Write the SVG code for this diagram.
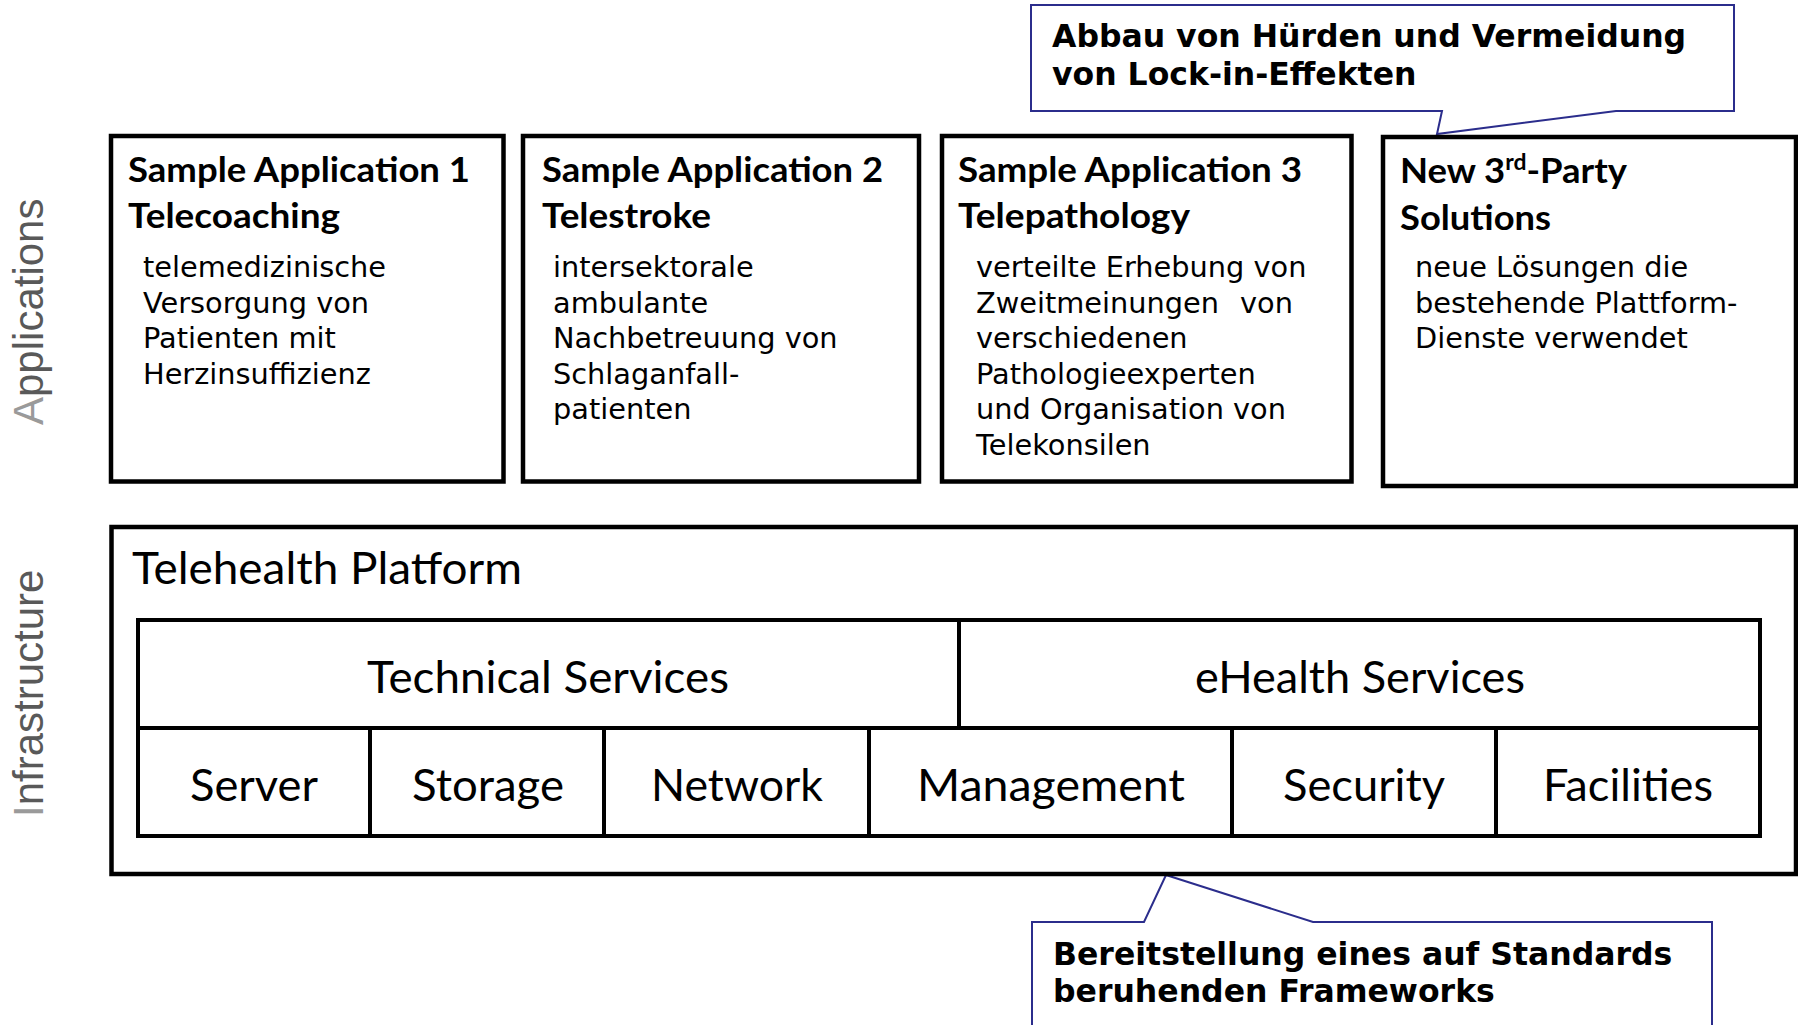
<svg xmlns="http://www.w3.org/2000/svg" width="1798" height="1025" viewBox="0 0 1798 1025">
  <style>
    .frame { fill: #ffffff; stroke: #000000; stroke-width: 4.5; }
    .grid { fill: none; stroke: #000000; stroke-width: 4; }
    .callout { fill: #ffffff; stroke: #2b2d8c; stroke-width: 2; stroke-linejoin: miter; }
    .side { font-family: "Liberation Sans", Arial, sans-serif; font-size: 42px; fill: #595959; }
    .side .cap { fill: #9a9a9a; }
    .title { font-family: Lato, "Open Sans", sans-serif; font-weight: bold; font-size: 35px; fill: #000000; }
    .sup { font-size: 22px; }
    .body { font-family: "DejaVu Sans", Verdana, sans-serif; font-size: 28.8px; fill: #000000; }
    .note { font-family: "DejaVu Sans", Verdana, sans-serif; font-weight: bold; font-size: 31.5px; fill: #000000; }
    .label { font-family: Lato, "Open Sans", sans-serif; font-size: 44px; fill: #000000; }
    .mid { text-anchor: middle; }
  </style>

  <!-- layer captions on the left -->
  <g id="layer-applications">
    <text class="side" transform="translate(43,425) rotate(-90)"><tspan class="cap">A</tspan>pplications</text>
  </g>
  <g id="layer-infrastructure">
    <text class="side" transform="translate(43,817) rotate(-90)"><tspan class="cap">I</tspan>nfrastructure</text>
  </g>

  <!-- speech-bubble notes -->
  <g id="note-lockin">
    <path class="callout" d="M1031,5 H1734 V111 H1616 L1437,134 L1442,111 H1031 Z"/>
    <text class="note" x="1052" y="47">Abbau von Hürden und Vermeidung</text>
    <text class="note" x="1052" y="85">von Lock-in-Effekten</text>
  </g>
  <g id="note-standards">
    <path class="callout" d="M1032,922 H1144 L1166,875 L1313,922 H1712 V1040 H1032 Z"/>
    <text class="note" x="1053" y="965">Bereitstellung eines auf Standards</text>
    <text class="note" x="1053" y="1002">beruhenden Frameworks</text>
  </g>

  <!-- application boxes -->
  <g id="app-telecoaching">
    <rect class="frame" x="111" y="136" width="392.5" height="345.5"/>
    <text class="title" x="128" y="182" textLength="342" lengthAdjust="spacingAndGlyphs">Sample Application 1</text>
    <text class="title" x="128" y="228" textLength="212" lengthAdjust="spacingAndGlyphs">Telecoaching</text>
    <text class="body" x="143" y="277">telemedizinische</text>
    <text class="body" x="143" y="312.5">Versorgung von</text>
    <text class="body" x="143" y="348">Patienten mit</text>
    <text class="body" x="143" y="383.5">Herzinsuffizienz</text>
  </g>

  <g id="app-telestroke">
    <rect class="frame" x="523" y="136" width="396" height="345.5"/>
    <text class="title" x="542" y="182" textLength="341" lengthAdjust="spacingAndGlyphs">Sample Application 2</text>
    <text class="title" x="542" y="228" textLength="169" lengthAdjust="spacingAndGlyphs">Telestroke</text>
    <text class="body" x="553" y="277">intersektorale</text>
    <text class="body" x="553" y="312.5">ambulante</text>
    <text class="body" x="553" y="348">Nachbetreuung von</text>
    <text class="body" x="553" y="383.5">Schlaganfall-</text>
    <text class="body" x="553" y="419">patienten</text>
  </g>

  <g id="app-telepathology">
    <rect class="frame" x="942" y="136" width="409.5" height="345.5"/>
    <text class="title" x="958" y="182" textLength="344" lengthAdjust="spacingAndGlyphs">Sample Application 3</text>
    <text class="title" x="958" y="228" textLength="232" lengthAdjust="spacingAndGlyphs">Telepathology</text>
    <text class="body" x="976" y="277">verteilte Erhebung von</text>
    <text class="body" x="976" y="312.5">Zweitmeinungen&#160; <tspan x="1240">von</tspan></text>
    <text class="body" x="976" y="348">verschiedenen</text>
    <text class="body" x="976" y="383.5">Pathologieexperten</text>
    <text class="body" x="976" y="419">und Organisation von</text>
    <text class="body" x="976" y="454.5">Telekonsilen</text>
  </g>

  <g id="app-third-party">
    <rect class="frame" x="1383" y="137" width="413" height="349"/>
    <text class="title" x="1400" y="183" textLength="227" lengthAdjust="spacingAndGlyphs">New 3<tspan class="sup" dy="-13">rd</tspan><tspan dy="13">-Party</tspan></text>
    <text class="title" x="1400" y="230" textLength="151" lengthAdjust="spacingAndGlyphs">Solutions</text>
    <text class="body" x="1415" y="277">neue Lösungen die</text>
    <text class="body" x="1415" y="312.5">bestehende Plattform-</text>
    <text class="body" x="1415" y="348">Dienste verwendet</text>
  </g>

  <!-- platform layer -->
  <g id="telehealth-platform">
    <rect class="frame" x="111.5" y="527" width="1684.5" height="347"/>
    <text class="label" x="132" y="584" textLength="390" lengthAdjust="spacingAndGlyphs">Telehealth Platform</text>
  </g>

  <g id="service-grid">
    <rect class="grid" x="138" y="620" width="1622" height="216"/>
    <line class="grid" x1="138" y1="728" x2="1760" y2="728"/>
    <line class="grid" x1="959" y1="620" x2="959" y2="728"/>
    <line class="grid" x1="370" y1="728" x2="370" y2="836"/>
    <line class="grid" x1="604" y1="728" x2="604" y2="836"/>
    <line class="grid" x1="869" y1="728" x2="869" y2="836"/>
    <line class="grid" x1="1232" y1="728" x2="1232" y2="836"/>
    <line class="grid" x1="1496" y1="728" x2="1496" y2="836"/>
  </g>

  <g id="technical-services">
    <text class="label mid" x="548" y="693" textLength="362" lengthAdjust="spacingAndGlyphs">Technical Services</text>
  </g>
  <g id="ehealth-services">
    <text class="label mid" x="1360" y="693" textLength="330" lengthAdjust="spacingAndGlyphs">eHealth Services</text>
  </g>
  <g id="server">
    <text class="label mid" x="254" y="801" textLength="128" lengthAdjust="spacingAndGlyphs">Server</text>
  </g>
  <g id="storage">
    <text class="label mid" x="488" y="801" textLength="152" lengthAdjust="spacingAndGlyphs">Storage</text>
  </g>
  <g id="network">
    <text class="label mid" x="737" y="801" textLength="172" lengthAdjust="spacingAndGlyphs">Network</text>
  </g>
  <g id="management">
    <text class="label mid" x="1051" y="801" textLength="268" lengthAdjust="spacingAndGlyphs">Management</text>
  </g>
  <g id="security">
    <text class="label mid" x="1364" y="801" textLength="162" lengthAdjust="spacingAndGlyphs">Security</text>
  </g>
  <g id="facilities">
    <text class="label mid" x="1628" y="801" textLength="170" lengthAdjust="spacingAndGlyphs">Facilities</text>
  </g>
</svg>
